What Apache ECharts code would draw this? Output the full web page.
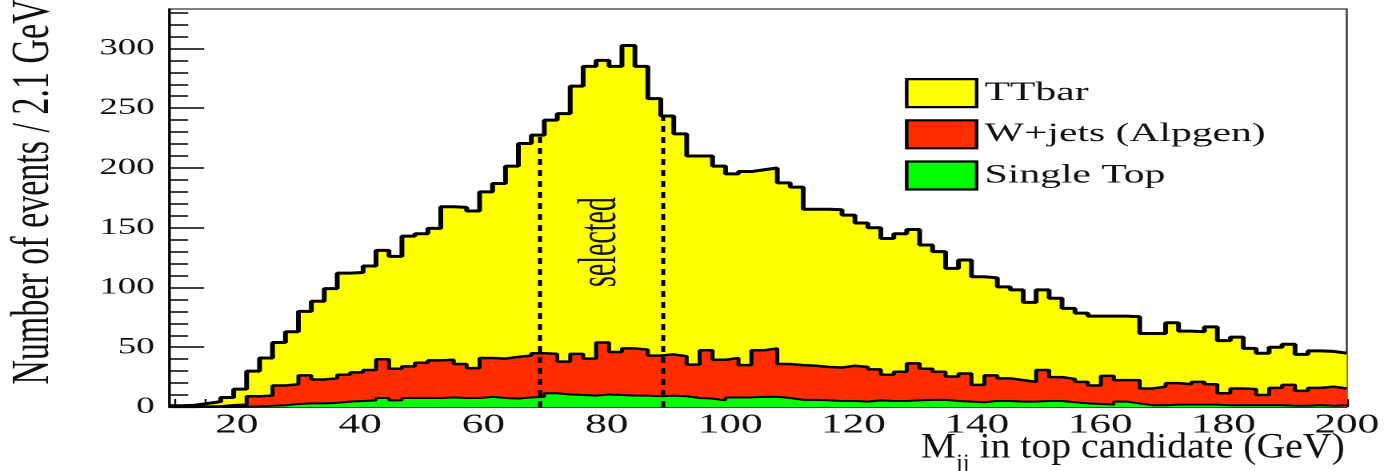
<!DOCTYPE html>
<html>
<head>
<meta charset="utf-8">
<script src="https://cdn.jsdelivr.net/npm/echarts@6/dist/echarts.min.js"></script>
<style>
  html, body { margin: 0; padding: 0; background: #fff; overflow: hidden; }
  /* the original plot is drawn wide: render narrow, then stretch sideways */
  #main { width: 865px; height: 471px; transform: scaleX(1.6); transform-origin: 0 0; }
</style>
</head>
<body>
<div id="main"></div>
<script>
var xMin = 9;
var xMax = 200;
var yMax = 333;
var xLabels = [20, 40, 60, 80, 100, 120, 140, 160, 180, 200];
var yLabels = [0, 50, 100, 150, 200, 250, 300];
var selWindow = [69, 89];
var selLabelY = 138;
var seriesNames = ['TTbar', 'W+jets (Alpgen)', 'Single Top'];
var fillColors = ['#ffff00', '#ff2c00', '#00ff00'];

// events per 2.1 GeV bin, 91 bins between xMin and xMax
var ttbar = [
  1, 1.5, 2.7, 4, 6.5, 13, 21, 31.5, 36, 44,
  53.5, 65.5, 75, 85, 83.5, 87, 91, 94, 109, 108,
  110.5, 128, 131, 131.5, 139, 146.5, 159.5, 177.5, 182.5, 195.5,
  207.5, 224, 244.5, 236, 239, 253.5, 237, 215, 199.5, 186,
  174.5, 162.5, 162, 154, 162, 151, 151, 151.5, 149, 131,
  132, 132, 126, 120.5, 118.5, 114, 115.5, 112, 103.5, 100.5,
  90.5, 95, 90.5, 81.5, 76.5, 75.5, 66.5, 67, 66, 59,
  57.5, 58, 50, 53.5, 53, 46, 44.5, 50.5, 44.5, 42,
  48, 44, 43, 34, 35, 34, 34, 30.5, 31, 29.5,
  29.5
];
var wjets = [
  0, 0, 0.3, 0.5, 1.5, 1.7, 8.5, 8.5, 16.5, 16.5,
  23.5, 20, 20.5, 22.5, 24, 25.5, 32.5, 26.5, 26.5, 29.5,
  31.5, 31.5, 28.5, 25, 32.5, 33, 35, 35, 36.5, 33,
  27.5, 34.5, 31, 43.5, 36, 39.5, 38.5, 34, 34.5, 33.5,
  28, 40.5, 34, 33, 27, 39, 40.5, 28.5, 29, 28.5,
  28, 28, 29.5, 29, 26, 22, 24.5, 31, 26, 23.5,
  20.5, 23.5, 14.5, 21.5, 19, 18, 16.5, 26, 20, 19.5,
  18, 15.5, 24, 18, 19.5, 14, 15.5, 18, 17, 19,
  17, 10, 14, 13.5, 8.5, 14.5, 17.5, 12.5, 14.5, 16,
  14
];
var singleTop = [
  0, 0, 0, 0, 0, 0.3, 0.5, 1, 1.5, 2.5,
  3, 3, 3.5, 4.5, 5, 5.5, 7.5, 5.5, 7.5, 7.5,
  7.5, 8, 7.5, 7.5, 8.5, 7.5, 7, 8, 8.5, 11.5,
  10.5, 10, 9.5, 10.5, 10, 9.5, 9.5, 9, 9.5, 9,
  7.5, 7, 5.5, 8, 8, 8.5, 8.5, 7.5, 6, 6,
  5.5, 5, 5, 4.5, 5.5, 5, 5, 5.5, 6, 6,
  5, 4.5, 4, 5, 5, 4.5, 4.5, 5, 5, 4,
  3, 2.5, 2, 4.5, 3, 1.5, 1.5, 2, 2, 2,
  2, 1.5, 1.5, 1.5, 1.5, 1.5, 1, 1, 1.5, 1,
  1.5
];

var binWidth = (xMax - xMin) / ttbar.length;
var stTop = singleTop.slice();
var wTop = singleTop.map(function (v, i) { return v + wjets[i]; });
var allTop = wTop.map(function (v, i) { return v + ttbar[i]; });

var xTicks = [];
for (var t = 10; t <= xMax; t += 5) xTicks.push(t);
var yTicks = [];
for (var u = 0; u <= 330; u += 10) yTicks.push(u);

// histogram outline: one point per bin low edge, plus the last edge
function steps(vals) {
  var pts = vals.map(function (v, i) { return [xMin + i * binWidth, v]; });
  pts.push([xMax, vals[vals.length - 1]]);
  return pts;
}
function binOf(x) {
  return Math.min(ttbar.length - 1, Math.floor((x - xMin) / binWidth));
}
function histSeries(i, vals, lw) {
  return {
    name: seriesNames[i],
    type: 'line',
    step: 'end',
    data: steps(vals),
    symbol: 'none',
    silent: true,
    color: fillColors[i],
    lineStyle: { color: '#000', width: lw },
    areaStyle: { color: fillColors[i], opacity: 1 }
  };
}

var serif = 'Liberation Serif, Times New Roman, serif';
var green = histSeries(2, stTop, 2);
green.markLine = {
  silent: true,
  symbol: ['none', 'none'],
  label: { show: false },
  lineStyle: { color: '#000', type: [6, 5], width: 2.5 },
  data: selWindow.map(function (x) {
    return [{ coord: [x, 0] }, { coord: [x, allTop[binOf(x)]] }];
  })
};

var chart = echarts.init(document.getElementById('main'), null, { devicePixelRatio: 2 });
chart.setOption({
  animation: false,
  grid: { left: 105.6, right: 21.9, top: 9, bottom: 64, show: true, borderColor: '#333', borderWidth: 1.2 },
  legend: {
    orient: 'vertical',
    left: 565.6,
    top: 78,
    padding: 0,
    itemWidth: 43.7,
    itemHeight: 28,
    itemGap: 11,
    icon: 'rect',
    selectedMode: false,
    itemStyle: { borderColor: '#000', borderWidth: 2.2 },
    textStyle: { fontFamily: serif, fontSize: 26, color: '#111' },
    data: seriesNames.map(function (n, i) { return { name: n, itemStyle: { color: fillColors[i] } }; })
  },
  xAxis: {
    type: 'value',
    min: xMin,
    max: xMax,
    axisLine: { onZero: false, lineStyle: { color: '#333', width: 1 } },
    axisTick: { inside: true, length: 8, customValues: xTicks, lineStyle: { color: '#000', width: 1.2 } },
    axisLabel: { customValues: xLabels, margin: 5, fontFamily: serif, fontSize: 27, color: '#111' },
    splitLine: { show: false }
  },
  yAxis: [{
    type: 'value',
    min: 0,
    max: yMax,
    axisLine: { show: true, lineStyle: { color: '#000', width: 1.5 } },
    axisTick: { inside: true, length: 12, customValues: yTicks, lineStyle: { color: '#000', width: 1.5 } },
    axisLabel: { customValues: yLabels, margin: 9, fontFamily: serif, fontSize: 23, color: '#111' },
    splitLine: { show: false }
  }, {
    type: 'value',
    min: 0,
    max: yMax,
    position: 'left',
    axisLine: { show: false },
    axisTick: { inside: true, length: 22, customValues: yLabels, lineStyle: { color: '#000', width: 1.5 } },
    axisLabel: { show: false },
    splitLine: { show: false }
  }],
  series: [histSeries(0, allTop, 3), histSeries(1, wTop, 2.5), green]
});

var selPos = chart.convertToPixel({ xAxisIndex: 0, yAxisIndex: 0 }, [(selWindow[0] + selWindow[1]) / 2, selLabelY]);
chart.setOption({
  graphic: [{
    type: 'text',
    x: 21.3,
    y: 192,
    rotation: Math.PI / 2,
    style: { text: 'Number of events / 2.1 GeV', font: '34px ' + serif, fill: '#111', align: 'center', verticalAlign: 'middle' }
  }, {
    type: 'text',
    x: 840.5,
    y: 452,
    scaleX: 0.69,
    style: {
      text: '{a|M}{s|jj}{a| in top candidate (GeV)}',
      align: 'right',
      verticalAlign: 'middle',
      fill: '#111',
      rich: {
        a: { fontFamily: serif, fontSize: 36, padding: [0, 0, 8, 0], verticalAlign: 'bottom' },
        s: { fontFamily: serif, fontSize: 22, verticalAlign: 'bottom' }
      }
    }
  }, {
    type: 'text',
    x: selPos[0],
    y: selPos[1],
    rotation: Math.PI / 2,
    scaleX: 0.82,
    z: 100,
    style: { text: 'selected', font: '34px ' + serif, fill: '#111', align: 'center', verticalAlign: 'middle' }
  }]
});
</script>
</body>
</html>
